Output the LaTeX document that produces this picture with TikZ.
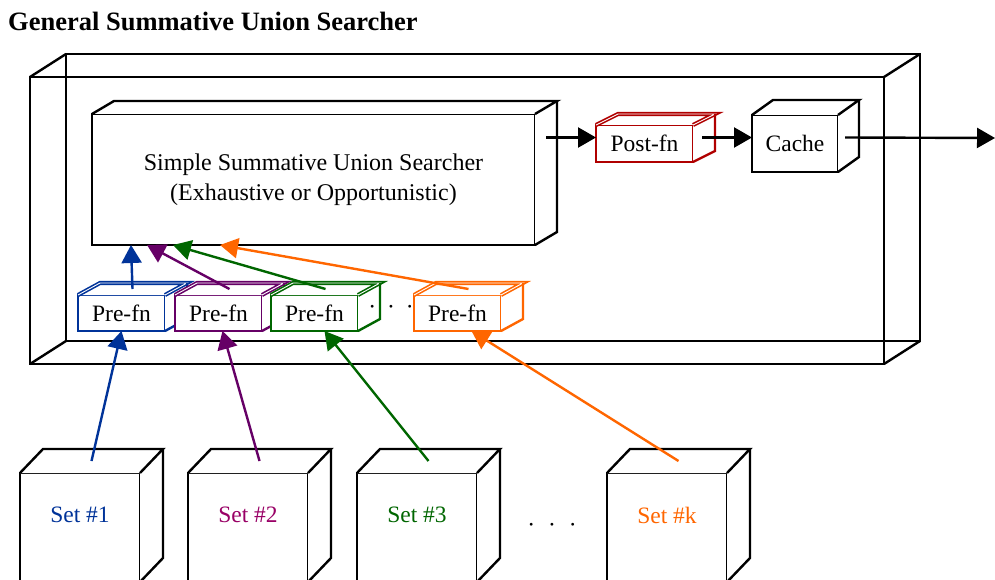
\documentclass[tikz,border=0pt]{standalone}
\usepackage{fontspec}
\setmainfont{Liberation Serif}
\usetikzlibrary{arrows.meta,calc}

\definecolor{preblue}{HTML}{003399}
\definecolor{prepurple}{HTML}{660066}
\definecolor{setpurple}{HTML}{990066}
\definecolor{pregreen}{HTML}{006600}
\definecolor{preorange}{HTML}{FF6600}
\definecolor{postred}{HTML}{B00000}

% top and right faces of a box node: [colour]{node}{depth}{top face options}
\newcommand{\cubesides}[4][black]{%
  \fill[white] (#2.north west) -- ++(#3) -- ([shift={(#3)}]#2.north east)
    -- ([shift={(#3)}]#2.south east) -- (#2.south east) -- (#2.north east) -- cycle;
  \draw[#1,line width=2.4pt,#4] (#2.north west) -- ++(#3) -- ([shift={(#3)}]#2.north east) -- (#2.north east);
  \draw[#1,line width=2.4pt] ([shift={(#3)}]#2.north east) -- ([shift={(#3)}]#2.south east) -- (#2.south east);
}

\tikzset{
  box/.style={draw, fill=white, line width=2.4pt, outer sep=0pt, inner sep=0pt,
    anchor=north west, font=\fontsize{23.5}{30}\selectfont},
  prefn/.style={box, minimum width=87pt, minimum height=36pt},
  setbox/.style={box, minimum width=120pt, minimum height=109pt},
  twin/.style={double=white, double distance=0.9pt, line width=1.6pt},
  arr/.style={line width=2.4pt, -{Triangle[length=18pt,width=20pt]}},
}

\begin{document}
\begin{tikzpicture}[x=1pt,y=-1pt]
\useasboundingbox (0,0) rectangle (995,580);

\node[anchor=base west, inner sep=0pt, font=\bfseries\fontsize{26.5}{30}\selectfont] (title) at (8,31) {General Summative Union Searcher};

\node[draw, line width=2.4pt, outer sep=0pt, minimum width=854pt, minimum height=287pt, anchor=north west] (gsus) at (30,77) {};
\draw[line width=2.4pt] ([shift={(36,-23)}]gsus.north west) rectangle ([shift={(36,-23)}]gsus.south east);
\foreach \c in {north west,north east,south east,south west}
  \draw[line width=2.4pt] (gsus.\c) -- ++(36,-23);

\node[box, minimum width=443pt, minimum height=131pt, align=center, font=\fontsize{24}{30}\selectfont] (simple) at (92,114)
  {Simple Summative Union Searcher\\(Exhaustive or Opportunistic)};
\cubesides{simple}{22,-13}{}

\node[box, draw=postred, minimum width=97pt, minimum height=37pt] (post) at (596,125) {Post-fn};
\cubesides[postred]{post}{22,-11}{twin}

\node[box, minimum width=86pt, minimum height=57pt] (cache) at (752,115) {Cache};
\cubesides{cache}{21,-15}{}

\foreach \i/\x/\c in {1/78/preblue, 2/175/prepurple, 3/271/pregreen, 4/414/preorange}
{
  \node[prefn, draw=\c] (pre\i) at (\x,295) {Pre-fn};
  \cubesides[\c]{pre\i}{22,-12}{twin}
}
\node[inner sep=0pt, font=\fontsize{23.5}{30}\selectfont] (predots) at (391,310) {·\hspace{11pt}·\hspace{11pt}·};

\foreach \i/\x/\c/\t in {1/20/preblue/1, 2/188/setpurple/2, 3/357/pregreen/3, 4/607/preorange/k}
{
  \node[setbox, label={[text=\c, anchor=center, yshift=-42pt, font=\fontsize{23.5}{30}\selectfont]north:Set \#\t}] (set\i) at (\x,473) {};
  \cubesides{set\i}{23,-24}{}
}
\node[inner sep=0pt, font=\fontsize{23.5}{30}\selectfont] (setdots) at (552,528) {·\hspace{13pt}·\hspace{13pt}·};

\foreach \i/\c/\tip/\base in {1/preblue/39/0, 2/prepurple/55/4, 3/pregreen/81/10, 4/preorange/128/14}
{
  \draw[arr, \c] ([shift={(11,-6)}]pre\i.north) -- ([xshift=\tip pt]simple.south west);
  \draw[arr, \c] ([shift={(11.5,-12)}]set\i.north) -- ([xshift=\base pt]pre\i.south);
}

\coordinate (out) at (995,138);
\draw[arr] ($(simple.east |- post.west)+(11,-6)$) -- ([yshift=6pt]post.west);
\draw[arr] ([shift={(9,-6)}]post.east) -- ([yshift=6pt]cache.west);
\draw[arr] ([shift={(7,-6)}]cache.east) -- (out);
\end{tikzpicture}
\end{document}
